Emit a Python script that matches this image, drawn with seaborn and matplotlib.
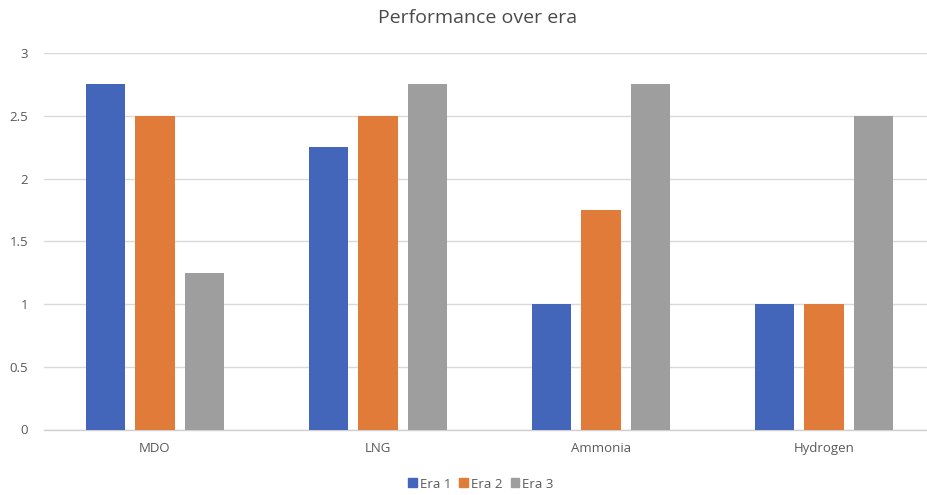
import matplotlib
matplotlib.use("Agg")
import matplotlib.pyplot as plt
import seaborn as sns
import pandas as pd

fuels = ["MDO", "LNG", "Ammonia", "Hydrogen"]
eras = ["Era 1", "Era 2", "Era 3"]
era1 = [2.75, 2.25, 1.0, 1.0]
era2 = [2.5, 2.5, 1.75, 1.0]
era3 = [1.25, 2.75, 2.75, 2.5]
yticks = [0, 0.5, 1, 1.5, 2, 2.5, 3]
colors = ["#4365BA", "#E07B39", "#9E9E9E"]

df = pd.DataFrame({
    "fuel": fuels * 3,
    "era": [eras[0]] * 4 + [eras[1]] * 4 + [eras[2]] * 4,
    "value": era1 + era2 + era3,
})

sns.set_theme(style="white")
plt.rcParams["font.family"] = ["Open Sans", "DejaVu Sans"]

W, H = 927, 495
fig = plt.figure(figsize=(W / 100, H / 100), dpi=100)
left, right, top, bottom = 43.5, 927, 53, 429.5
ax = fig.add_axes([left / W, 1 - bottom / H, (right - left) / W, (bottom - top) / H])

sns.barplot(data=df, x="fuel", y="value", hue="era", order=fuels, hue_order=eras,
            palette=colors, width=0.666, gap=0.21, saturation=1, errorbar=None,
            ax=ax, zorder=3, legend=False, linewidth=0)

ax.set_xlim(-0.5, -0.5 + (right - left) / 223.0)
ax.set_ylim(0, 3)
ax.set_yticks(yticks)
ax.set_yticklabels([f"{t:g}" for t in yticks])
ax.grid(axis="y", color="#D9D9D9", linewidth=1.0, zorder=0)
for s in ["top", "right", "left"]:
    ax.spines[s].set_visible(False)
ax.spines["bottom"].set_color("#D0D0D0")
ax.spines["bottom"].set_linewidth(1.0)
ax.tick_params(axis="both", length=0, labelsize=9.5, colors="#595959")
ax.tick_params(axis="y", pad=11)
ax.tick_params(axis="x", pad=9)
ax.set_xlabel("")
ax.set_ylabel("")

fig.text(478 / W, 1 - 18 / H, "Performance over era", ha="center", va="center",
         fontsize=14, color="#4A4A4A")

handles = [plt.Rectangle((0, 0), 1, 1, color=c) for c in colors]
fig.legend(handles, eras, loc="center", bbox_to_anchor=(481 / W, 1 - 484 / H),
           ncol=3, frameon=False, fontsize=9.5, labelcolor="#595959",
           handlelength=0.65, handleheight=0.65, handletextpad=0.25, columnspacing=0.6)

fig.savefig("out.png", dpi=100, facecolor="white")
